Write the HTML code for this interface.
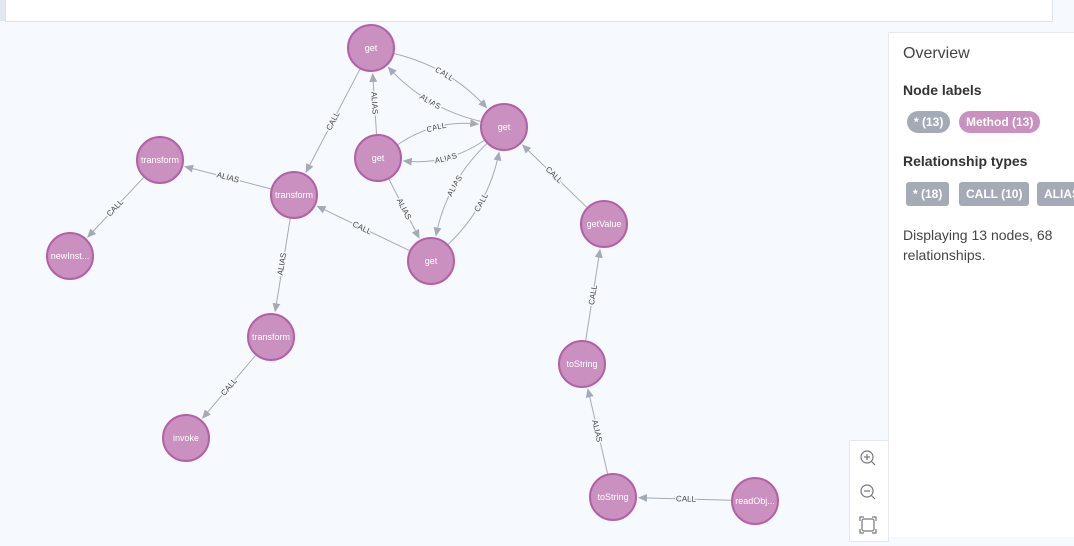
<!DOCTYPE html>
<html><head><meta charset="utf-8"><style>
html,body{margin:0;padding:0;width:1074px;height:536px;overflow:hidden;background:#f6f9fd;font-family:"Liberation Sans",sans-serif;}
#top{position:absolute;left:0;top:0;width:1074px;height:22px;background:#f6f9fd;}
#topbox{position:absolute;left:5px;top:-1px;width:1046px;height:22px;background:#fff;border:1px solid #dde3ec;border-top:none;}
#strip{position:absolute;left:0;top:0;width:5px;height:21px;background:#e3e7ef;}
#panel{position:absolute;left:888px;top:32px;width:186px;height:504px;background:#fff;border-left:1px solid #e6e9ee;border-top:1px solid #e6e9ee;}
.h{position:absolute;left:14px;color:#333;}
.pill{position:absolute;height:22px;line-height:22px;color:#fff;font-weight:bold;font-size:12px;padding:0 7px;white-space:nowrap;}
#zoom{position:absolute;left:849px;top:440px;width:38px;height:100px;background:#fff;border:1px solid #e3e7ee;}
</style></head><body>
<div id="top"><div id="strip"></div><div id="topbox"></div></div>
<svg width="1074" height="536" style="position:absolute;left:0;top:0" font-family="Liberation Sans, sans-serif">
<defs><marker id="a" markerWidth="9" markerHeight="8" refX="8" refY="4" orient="auto" markerUnits="userSpaceOnUse"><path d="M0,0 L9,4 L0,8 z" fill="#a5abb6"/></marker>
<path id="t1" d="M394.3 53.6 Q449.7 66.9 486.6 107.7"/>
<path id="t2" d="M388.4 67.3 Q425.3 108.1 480.7 121.4"/>
<path id="t3" d="M397.9 144.5 Q435.3 119.2 478.2 124.1"/>
<path id="t4" d="M403.8 160.9 Q446.7 165.8 484.1 140.5"/>
<path id="t5" d="M436 235.5 Q446.4 182.5 486.7 143.7"/>
<path id="t6" d="M448.3 244.3 Q488.6 205.5 499 152.5"/>
</defs>
<g stroke="#a5abb6" stroke-width="1" fill="none" marker-end="url(#a)">
<line x1="376.5" y1="134" x2="372.7" y2="74"/>
<line x1="359.9" y1="69.3" x2="306.1" y2="172"/>
<line x1="270.8" y1="188.9" x2="185.1" y2="166.6"/>
<line x1="143.6" y1="177.5" x2="87.8" y2="237"/>
<line x1="409.4" y1="250.6" x2="317.4" y2="206.3"/>
<line x1="389" y1="179.3" x2="419.1" y2="237.9"/>
<line x1="586.8" y1="207.3" x2="522.7" y2="145.1"/>
<line x1="290.2" y1="218.7" x2="275.2" y2="311.3"/>
<line x1="255.5" y1="355.4" x2="202.7" y2="418.1"/>
<line x1="585.7" y1="340.3" x2="600" y2="249.7"/>
<line x1="607.6" y1="473.6" x2="587.9" y2="389.3"/>
<line x1="731" y1="500.3" x2="639" y2="497.7"/>
<path d="M394.3 53.6 Q449.7 66.9 486.6 107.7"/>
<path d="M480.7 121.4 Q425.3 108.1 388.4 67.3"/>
<path d="M397.9 144.5 Q435.3 119.2 478.2 124.1"/>
<path d="M484.1 140.5 Q446.7 165.8 403.8 160.9"/>
<path d="M486.7 143.7 Q446.4 182.5 436 235.5"/>
<path d="M448.3 244.3 Q488.6 205.5 499 152.5"/>
</g>
<g font-size="8" fill="#444" text-anchor="middle" stroke="#f6f9fd" stroke-width="3" paint-order="stroke" dominant-baseline="central">
<text transform="translate(374.5,103) rotate(86.4)">ALIAS</text>
<text transform="translate(333,121) rotate(-62.4)">CALL</text>
<text transform="translate(228,177.5) rotate(14.6)">ALIAS</text>
<text transform="translate(115,208) rotate(-46.8)">CALL</text>
<text transform="translate(362,228) rotate(25.7)">CALL</text>
<text transform="translate(404,209) rotate(62.8)">ALIAS</text>
<text transform="translate(554,175) rotate(44.1)">CALL</text>
<text transform="translate(282,264) rotate(-80.8)">ALIAS</text>
<text transform="translate(229,387) rotate(-50)">CALL</text>
<text transform="translate(593,295) rotate(-81.1)">CALL</text>
<text transform="translate(597,431) rotate(77)">ALIAS</text>
<text transform="translate(686,499) rotate(1.6)">CALL</text>
<text><textPath href="#t1" startOffset="50%">CALL</textPath></text>
<text><textPath href="#t2" startOffset="50%">ALIAS</textPath></text>
<text><textPath href="#t3" startOffset="50%">CALL</textPath></text>
<text><textPath href="#t4" startOffset="50%">ALIAS</textPath></text>
<text><textPath href="#t5" startOffset="50%">ALIAS</textPath></text>
<text><textPath href="#t6" startOffset="50%">CALL</textPath></text>
</g>
<g fill="#c990c0" stroke="#b261a5" stroke-width="2">
<circle cx="371" cy="48" r="23"/><circle cx="504" cy="127" r="23"/><circle cx="378" cy="158" r="23"/>
<circle cx="160" cy="160" r="23"/><circle cx="294" cy="195" r="23"/><circle cx="70" cy="256" r="23"/>
<circle cx="431" cy="261" r="23"/><circle cx="604" cy="224" r="23"/><circle cx="271" cy="337" r="23"/>
<circle cx="582" cy="364" r="23"/><circle cx="186" cy="438" r="23"/><circle cx="613" cy="497" r="23"/>
<circle cx="755" cy="501" r="23"/>
</g>
<g fill="#fff" font-size="9" text-anchor="middle" dominant-baseline="central">
<text x="371" y="48">get</text><text x="504" y="127">get</text><text x="378" y="158">get</text>
<text x="160" y="160">transform</text><text x="294" y="195">transform</text><text x="70" y="256">newInst...</text>
<text x="431" y="261">get</text><text x="604" y="224">getValue</text><text x="271" y="337">transform</text>
<text x="582" y="364">toString</text><text x="186" y="438">invoke</text><text x="613" y="497">toString</text>
<text x="755" y="501">readObj...</text>
</g>
</svg>
<div id="zoom">
<svg width="38" height="100"><g fill="none" stroke="#777" stroke-width="1.2">
<circle cx="17" cy="16" r="6"/><line x1="21.5" y1="20.5" x2="25" y2="24"/><line x1="14" y1="16" x2="20" y2="16"/><line x1="17" y1="13" x2="17" y2="19"/>
<circle cx="17" cy="50" r="6"/><line x1="21.5" y1="54.5" x2="25" y2="58"/><line x1="14" y1="50" x2="20" y2="50"/>
<rect x="12" y="78" width="12" height="12" rx="2"/><path d="M10 80v-4h4M22 76h4v4M26 88v4h-4M14 92h-4v-4"/></g></svg>
</div>
<div id="panel">
<div class="h" style="top:12px;font-size:16px;font-weight:300;color:#444">Overview</div>
<div class="h" style="top:49px;font-size:14px;font-weight:bold">Node labels</div>
<div class="pill" style="left:18px;top:78px;background:#a5abb6;border-radius:11px">* (13)</div>
<div class="pill" style="left:70px;top:78px;background:#c990c0;border-radius:11px">Method (13)</div>
<div class="h" style="top:120px;font-size:14px;font-weight:bold">Relationship types</div>
<div class="pill" style="left:17px;top:149px;background:#a5abb6;border-radius:3px;height:24px;line-height:24px">* (18)</div>
<div class="pill" style="left:70px;top:149px;background:#a5abb6;border-radius:3px;height:24px;line-height:24px">CALL (10)</div>
<div class="pill" style="left:148px;top:149px;background:#a5abb6;border-radius:3px;height:24px;line-height:24px">ALIAS (8)</div>
<div class="h" style="top:192px;font-size:14px;line-height:20px;color:#444;width:170px">Displaying 13 nodes, 68 relationships.</div>
</div>
</body></html>
